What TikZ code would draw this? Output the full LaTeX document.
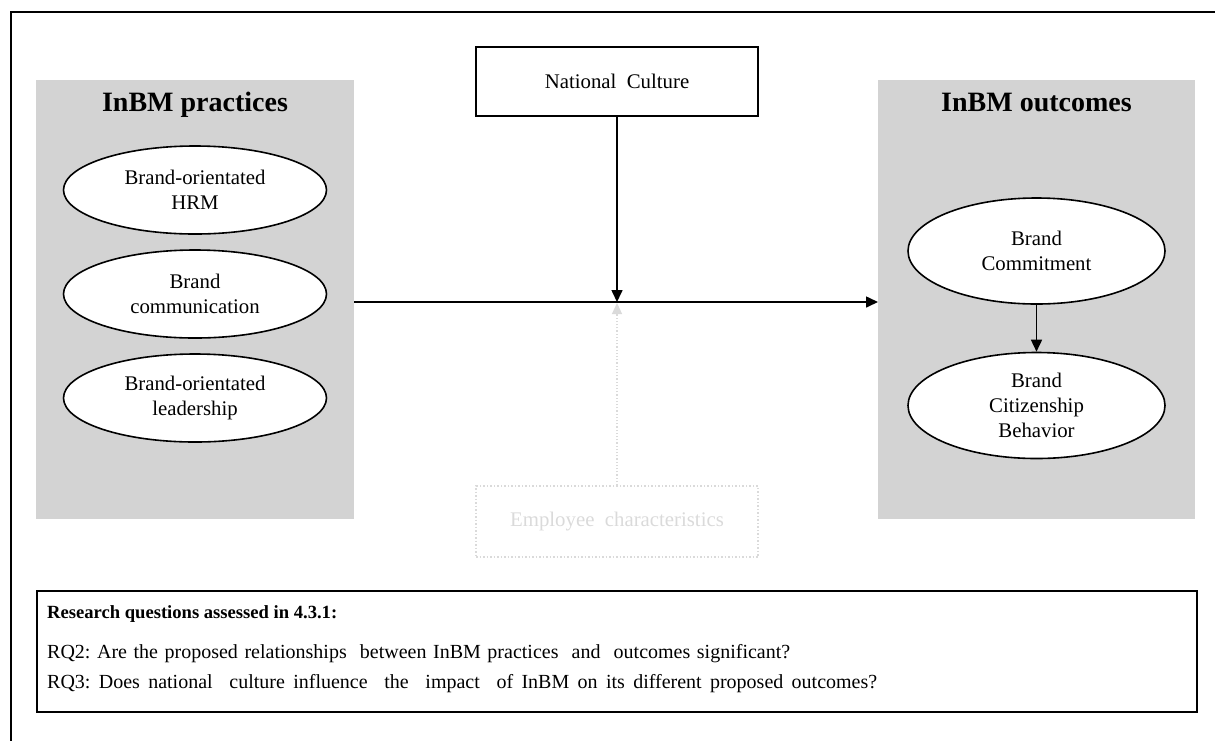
\documentclass[tikz,border=0pt]{standalone}
\usepackage{fontspec}
\setmainfont{Liberation Serif}
\usetikzlibrary{shapes.geometric,arrows.meta}
\definecolor{panelgrey}{RGB}{211,211,211}
\definecolor{faintgrey}{RGB}{218,218,218}
\begin{document}
\begin{tikzpicture}[x=1pt,y=-1pt,
  panel/.style={fill=panelgrey, draw=none, inner sep=0pt, anchor=north west},
  paneltitle/.style={anchor=base, font=\fontsize{28}{32}\selectfont\bfseries},
  oval/.style={ellipse, draw, line width=1.6pt, fill=white, inner sep=0pt,
    align=center, font=\fontsize{20.8}{25}\selectfont},
  plainbox/.style={draw, line width=1.6pt, inner sep=0pt, align=center,
    font=\fontsize{20.8}{25}\selectfont},
  conn/.style={line width=1.6pt, -{Triangle[length=12pt,width=11pt]}},
  rqtext/.style={anchor=base west, inner sep=0pt, font=\fontsize{20}{24}\selectfont}
]
\useasboundingbox (0,0) rectangle (1215,740);
\clip (0,0) rectangle (1215,740);

% outer frame
\draw[line width=1.5pt] (11,12) rectangle (1260,780);

% grey panels
\node[panel, minimum width=318, minimum height=439] (pracpanel) at (36,80) {};
\node[panel, minimum width=317, minimum height=439] (outpanel) at (878,80) {};
\node[paneltitle] (practitle) at (195,111) {InBM practices};
\node[paneltitle] (outtitle) at (1036.5,111) {InBM outcomes};

% practices
\node[oval, minimum width=263, minimum height=88] (hrm) at (195,190) {Brand-orientated\\HRM};
\node[oval, minimum width=263, minimum height=88] (comm) at (195,294) {Brand\\communication};
\node[oval, minimum width=263, minimum height=88] (lead) at (195,398) {Brand-orientated\\leadership};

% outcomes
\node[oval, minimum width=257, minimum height=106] (commit) at (1036.5,251) {Brand\\Commitment};
\node[oval, minimum width=257, minimum height=106] (citizen) at (1036.5,405.5) {Brand\\Citizenship\\Behavior};
\draw[conn] (commit) -- (citizen);

% moderators
\node[plainbox, minimum width=282, minimum height=69] (natc) at (617,81.5) {National\ \ Culture};
\node[draw=faintgrey, dotted, line width=1.5pt, inner sep=0pt, minimum width=282, minimum height=71,
  text=faintgrey, font=\fontsize{20.8}{25}\selectfont] (emp) at (617,521.5) {Employee\ \ characteristics};

% main path
\coordinate (join) at (617,302);
\coordinate (joinlow) at (617,303);
\draw[faintgrey, line width=1.2pt, dotted] (emp.north) -- ([yshift=-10pt]joinlow);
\draw[faintgrey, line width=1.2pt, -{Triangle[length=11pt,width=10pt]}] ([yshift=-12pt]joinlow) -- (joinlow);
\draw[conn] (pracpanel.east |- join) -- (outpanel.west |- join);
\draw[conn] (natc.south) -- (join);

% research questions
\node[draw, line width=1.6pt, inner sep=0pt, anchor=north west, minimum width=1160, minimum height=121] (rqbox) at (36,590) {};
\node[rqtext, font=\fontsize{18.6}{22}\selectfont\bfseries] (rqhead) at (47,618) {Research questions assessed in 4.3.1:};
\node[rqtext] (rq2) at (47,658) {\makebox[743pt][s]{RQ2:\ Are the proposed relationships\ \ between InBM practices\ \ and\ \ outcomes significant?}};
\node[rqtext] (rq3) at (47,688) {\makebox[830pt][s]{RQ3:\ Does national\ \ culture influence\ \ the\ \ impact\ \ of InBM on its different proposed outcomes?}};
\end{tikzpicture}
\end{document}
